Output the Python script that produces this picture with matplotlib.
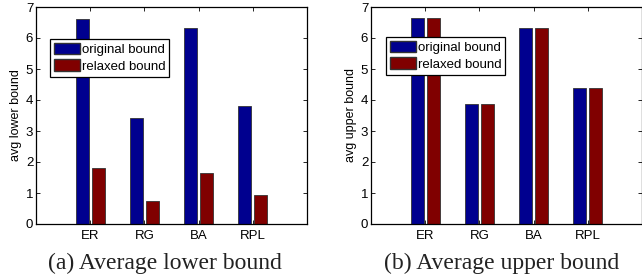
import numpy as np
import matplotlib.pyplot as plt
from matplotlib.patches import Patch

# data
categories = ["ER", "RG", "BA", "RPL"]
lower_original = [6.62, 3.42, 6.33, 3.80]
lower_relaxed = [1.80, 0.73, 1.63, 0.95]
upper_original = [6.65, 3.87, 6.33, 4.40]
upper_relaxed = [6.65, 3.87, 6.33, 4.40]

blue = "#00008f"
red = "#800000"

fig = plt.figure(figsize=(6.42, 2.77), dpi=100)
W, H = 642, 277

def draw(ax, orig, relax, ylabel):
    x = np.arange(1, len(categories) + 1)
    w = 0.235
    ax.bar(x - 0.148, orig, w, color=blue, edgecolor="#333333", linewidth=0.6)
    ax.bar(x + 0.148, relax, w, color=red, edgecolor="#333333", linewidth=0.6)
    ax.set_xlim(0, 5)
    ax.set_ylim(0, 7)
    ax.set_xticks(x)
    ax.set_xticklabels(categories, fontsize=9.5, family="Liberation Sans")
    ax.set_yticks(range(8))
    ax.set_yticklabels([str(i) for i in range(8)], fontsize=9.5, family="Liberation Sans")
    ax.tick_params(direction="in", top=True, right=True, length=3, width=0.6, pad=2)
    ax.tick_params(axis="x", pad=4)
    ax.set_ylabel(ylabel, fontsize=9, family="Liberation Sans", labelpad=3)
    for s in ax.spines.values():
        s.set_linewidth(0.9)

def legend(ax, dx, dy):
    handles = [Patch(facecolor=blue, edgecolor="#333333"),
               Patch(facecolor=red, edgecolor="#333333")]
    leg = ax.legend(handles, ["original bound", "relaxed bound"], loc="upper left",
                    bbox_to_anchor=(dx / 271, 1 - dy / 217),
                    prop={"family": "Liberation Sans", "size": 9.5},
                    fancybox=False, edgecolor="black", framealpha=1,
                    handlelength=2.0, handleheight=0.95, handletextpad=0.1,
                    labelspacing=0.25, borderpad=0.3, borderaxespad=0)
    leg.get_frame().set_linewidth(0.9)

# left panel
ax1 = fig.add_axes([36 / W, 1 - 224 / H, 271 / W, 217 / H])
draw(ax1, lower_original, lower_relaxed, "avg lower bound")
legend(ax1, 14, 32)

# right panel
ax2 = fig.add_axes([371 / W, 1 - 224 / H, 271 / W, 217 / H])
draw(ax2, upper_original, upper_relaxed, "avg upper bound")
legend(ax2, 15, 30)

# captions
fig.text(165 / W, 1 - 263 / H, "(a) Average lower bound", ha="center", va="center",
         fontsize=17, family="Liberation Serif", color="#222222")
fig.text(502 / W, 1 - 263 / H, "(b) Average upper bound", ha="center", va="center",
         fontsize=17, family="Liberation Serif", color="#222222")

fig.savefig("out.png", dpi=100)
